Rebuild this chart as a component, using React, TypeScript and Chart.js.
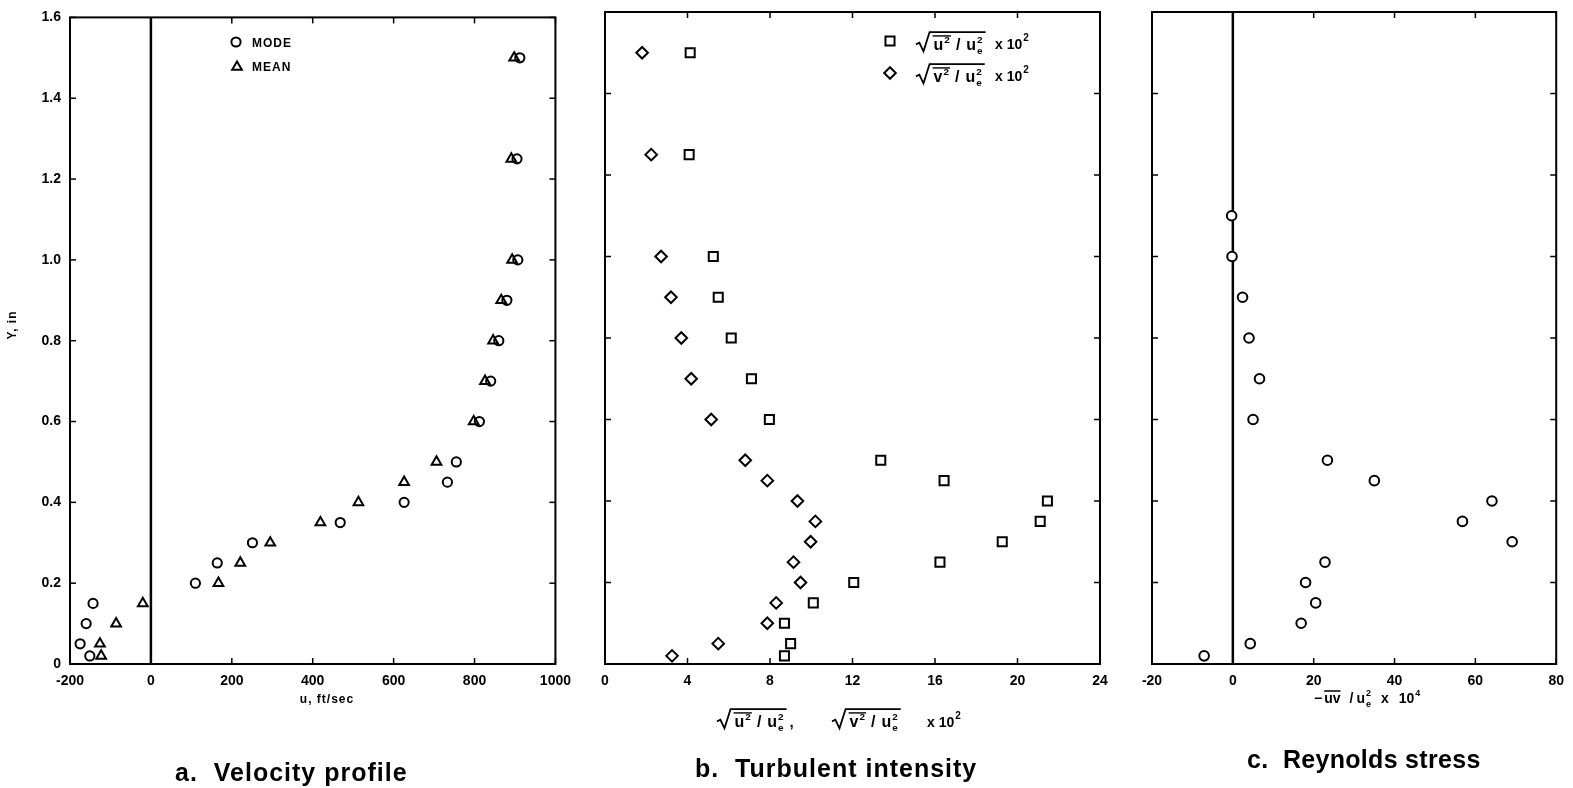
import React, { useEffect, useRef } from "react";
import { Chart, registerables } from "chart.js";

Chart.register(...registerables);

// ---------------- data ----------------
const yLevels = [1.5, 1.25, 1.0, 0.9, 0.8, 0.7, 0.6, 0.5, 0.45, 0.4, 0.35, 0.3, 0.25, 0.2, 0.15, 0.1, 0.05, 0.02];
const modeVelocity = [912, 905, 907, 880, 860, 840, 812, 755, 733, 626, 468, 251, 164, 110, -143, -160, -175, -151];
const meanVelocity = [898, 891, 893, 866, 846, 826, 798, 706, 626, 513, 419, 295, 221, 167, -20, -86, -126, -123];

const uIntensity = [4.13, 4.08, 5.25, 5.49, 6.12, 7.1, 7.97, 13.37, 16.44, 21.45, 21.1, 19.26, 16.24, 12.06, 10.1, 8.7, 9.0, 8.7];
const vIntensity = [1.8, 2.24, 2.72, 3.2, 3.7, 4.18, 5.15, 6.8, 7.87, 9.33, 10.2, 9.97, 9.14, 9.48, 8.3, 7.87, 5.49, 3.25];

const stressLevels = [1.1, 1.0, 0.9, 0.8, 0.7, 0.6, 0.5, 0.45, 0.4, 0.35, 0.3, 0.25, 0.2, 0.15, 0.1, 0.05, 0.02];
const reynoldsStress = [-0.3, -0.2, 2.4, 4.0, 6.6, 5.0, 23.4, 35.0, 64.1, 56.8, 69.1, 22.8, 18.0, 20.5, 16.9, 4.3, -7.1];

const yTicks = [0, 0.2, 0.4, 0.6, 0.8, 1.0, 1.2, 1.4, 1.6];
const yTickLabels = ["0", "0.2", "0.4", "0.6", "0.8", "1.0", "1.2", "1.4", "1.6"];
const velocityTicks = [-200, 0, 200, 400, 600, 800, 1000];
const intensityTicks = [0, 4, 8, 12, 16, 20, 24];
const stressTicks = [-20, 0, 20, 40, 60, 80];

// ---------------- layout constants ----------------
const FONT = '"Liberation Sans", Arial, Helvetica, sans-serif';
const TOP = 12;
const BOTTOM = 664;
const CANVAS_H = 788;
const X_AXIS_H = 40;
const Y_AXIS_W = 40;

function line(ctx: CanvasRenderingContext2D, x1: number, y1: number, x2: number, y2: number) {
  ctx.beginPath();
  ctx.moveTo(x1, y1);
  ctx.lineTo(x2, y2);
  ctx.stroke();
}

function seg(ctx: CanvasRenderingContext2D, x: number, y: number, text: string, size: number, dy = 0) {
  ctx.font = `bold ${size}px ${FONT}`;
  ctx.fillText(text, x, y + dy);
  return x + ctx.measureText(text).width;
}

function marker(ctx: CanvasRenderingContext2D, style: string, x: number, y: number, r: number) {
  ctx.beginPath();
  if (style === "circle") ctx.arc(x, y, r, 0, Math.PI * 2);
  else if (style === "triangle") {
    ctx.moveTo(x, y - r);
    ctx.lineTo(x + r * 0.866, y + r / 2);
    ctx.lineTo(x - r * 0.866, y + r / 2);
    ctx.closePath();
  } else if (style === "rect") {
    const h = r * Math.SQRT1_2;
    ctx.rect(x - h, y - h, 2 * h, 2 * h);
  } else {
    ctx.moveTo(x, y - r);
    ctx.lineTo(x + r, y);
    ctx.lineTo(x, y + r);
    ctx.lineTo(x - r, y);
    ctx.closePath();
  }
  ctx.fillStyle = "#fff";
  ctx.fill();
  ctx.lineWidth = 2;
  ctx.strokeStyle = "#000";
  ctx.stroke();
}

// square-root of a ratio:  sqrt( X^2 / u_e^2 ) with mean bar over X^2
function drawSqrtRatio(ctx: CanvasRenderingContext2D, x: number, y: number, letter: string, s: number) {
  ctx.fillStyle = "#000";
  ctx.strokeStyle = "#000";
  const radW = s * 0.85;
  let cx = x + radW + 4;
  const barStart = cx - 1;
  cx = seg(ctx, cx, y, letter, s);
  cx = seg(ctx, cx + 1, y, "2", s * 0.62, -s * 0.45);
  const barEnd = cx + 1;
  cx = seg(ctx, cx + 6, y, "/", s);
  cx = seg(ctx, cx + 6, y, "u", s);
  const sx = cx + 1;
  seg(ctx, sx, y, "e", s * 0.62, s * 0.28);
  cx = seg(ctx, sx, y, "2", s * 0.62, -s * 0.45);
  cx += 3;
  ctx.lineWidth = 1.4;
  line(ctx, barStart, y - s * 0.88, barEnd, y - s * 0.88);
  const topY = y - s * 1.12;
  ctx.lineWidth = 1.8;
  ctx.beginPath();
  ctx.moveTo(x, y - s * 0.35);
  ctx.lineTo(x + radW * 0.25, y - s * 0.45);
  ctx.lineTo(x + radW * 0.55, y + s * 0.08);
  ctx.lineTo(x + radW, topY);
  ctx.lineTo(cx, topY);
  ctx.stroke();
  return cx;
}

function drawFrame(chart: any, xTicks: number[], zero: boolean) {
  const { ctx, chartArea: a, scales } = chart;
  const xs = scales.x;
  const ys = scales.y;
  ctx.save();
  ctx.strokeStyle = "#000";
  ctx.lineWidth = 2;
  ctx.strokeRect(a.left, a.top, a.right - a.left, a.bottom - a.top);
  ctx.lineWidth = 1.5;
  const T = 6;
  for (const v of yTicks) {
    const p = ys.getPixelForValue(v);
    line(ctx, a.left, p, a.left + T, p);
    line(ctx, a.right, p, a.right - T, p);
  }
  for (const v of xTicks) {
    const p = xs.getPixelForValue(v);
    line(ctx, p, a.top, p, a.top + T);
    line(ctx, p, a.bottom, p, a.bottom - T);
  }
  if (zero) {
    ctx.lineWidth = 2.5;
    const p = xs.getPixelForValue(0);
    line(ctx, p, a.top, p, a.bottom);
  }
  ctx.restore();
}

type PanelSpec = {
  width: number;
  plotLeft: number;
  plotRight: number;
  xMin: number;
  xMax: number;
  xTicks: number[];
  showY: boolean;
  zero: boolean;
  datasets: any[];
  decorate: (chart: any) => void;
};

function makeConfig(p: PanelSpec): any {
  return {
    type: "scatter",
    data: { datasets: p.datasets },
    options: {
      responsive: false,
      animation: false,
      events: [],
      layout: {
        autoPadding: false,
        padding: {
          left: p.showY ? p.plotLeft - Y_AXIS_W : p.plotLeft,
          right: p.width - p.plotRight,
          top: TOP,
          bottom: CANVAS_H - BOTTOM - X_AXIS_H,
        },
      },
      plugins: { legend: { display: false }, tooltip: { enabled: false }, title: { display: false } },
      scales: {
        x: {
          type: "linear",
          min: p.xMin,
          max: p.xMax,
          afterBuildTicks: (s: any) => {
            s.ticks = p.xTicks.map((v) => ({ value: v }));
          },
          afterFit: (s: any) => {
            s.height = X_AXIS_H;
          },
          grid: { display: false, drawTicks: false },
          border: { display: false },
          ticks: {
            color: "#000",
            font: { family: FONT, size: 14, weight: "bold" },
            padding: 9,
            maxRotation: 0,
            autoSkip: false,
            callback: (v: any) => String(v),
          },
        },
        y: {
          type: "linear",
          min: 0,
          max: 1.6,
          afterBuildTicks: (s: any) => {
            s.ticks = yTicks.map((v) => ({ value: v }));
          },
          afterFit: (s: any) => {
            s.width = p.showY ? Y_AXIS_W : 0;
          },
          grid: { display: false, drawTicks: false },
          border: { display: false },
          ticks: {
            display: p.showY,
            color: "#000",
            font: { family: FONT, size: 14, weight: "bold" },
            padding: 9,
            autoSkip: false,
            callback: (v: any) => {
              const i = yTicks.findIndex((t) => Math.abs(t - v) < 1e-6);
              return i >= 0 ? yTickLabels[i] : "";
            },
          },
        },
      },
    },
    plugins: [
      {
        id: "frame",
        beforeDatasetsDraw: (chart: any) => drawFrame(chart, p.xTicks, p.zero),
      },
      {
        id: "deco",
        afterDraw: (chart: any) => {
          const ctx = chart.ctx;
          ctx.save();
          ctx.fillStyle = "#000";
          ctx.strokeStyle = "#000";
          ctx.textBaseline = "alphabetic";
          ctx.textAlign = "left";
          p.decorate(chart);
          ctx.restore();
        },
      },
    ],
  };
}

const pointBase = {
  showLine: false,
  pointBorderColor: "#000",
  pointBorderWidth: 2,
};

function panelA(): PanelSpec {
  return {
    width: 580,
    plotLeft: 70,
    plotRight: 556,
    xMin: -200,
    xMax: 1000,
    xTicks: velocityTicks,
    showY: true,
    zero: true,
    datasets: [
      {
        ...pointBase,
        label: "MODE",
        data: yLevels.map((y, i) => ({ x: modeVelocity[i], y })),
        pointStyle: "circle",
        pointRadius: 4.6,
        pointBackgroundColor: "rgba(0,0,0,0)",
      },
      {
        ...pointBase,
        label: "MEAN",
        data: yLevels.map((y, i) => ({ x: meanVelocity[i], y })),
        pointStyle: "triangle",
        pointRadius: 5.6,
        pointBackgroundColor: "rgba(0,0,0,0)",
      },
    ],
    decorate: (chart: any) => {
      const ctx = chart.ctx as CanvasRenderingContext2D;
      marker(ctx, "circle", 236, 42, 4.6);
      marker(ctx, "triangle", 237, 67, 5.6);
      ctx.fillStyle = "#000";
      (ctx as any).letterSpacing = "1px";
      seg(ctx, 252, 47, "MODE", 12);
      seg(ctx, 252, 71, "MEAN", 12);
      // x-axis title
      ctx.font = `bold 12px ${FONT}`;
      ctx.textAlign = "center";
      ctx.fillText("u, ft/sec", 327, 703);
      // y-axis title
      ctx.save();
      ctx.translate(16, 325);
      ctx.rotate(-Math.PI / 2);
      ctx.fillText("Y, in", 0, 0);
      ctx.restore();
      (ctx as any).letterSpacing = "0px";
      ctx.textAlign = "left";
    },
  };
}

function panelB(): PanelSpec {
  return {
    width: 550,
    plotLeft: 25,
    plotRight: 520,
    xMin: 0,
    xMax: 24,
    xTicks: intensityTicks,
    showY: false,
    zero: false,
    datasets: [
      {
        ...pointBase,
        label: "u' intensity",
        data: yLevels.map((y, i) => ({ x: uIntensity[i], y })),
        pointStyle: "rect",
        pointRadius: 6.4,
        pointBackgroundColor: "#fff",
      },
      {
        ...pointBase,
        label: "v' intensity",
        data: yLevels.map((y, i) => ({ x: vIntensity[i], y })),
        pointStyle: "rectRot",
        pointRadius: 5.8,
        pointBackgroundColor: "#fff",
      },
    ],
    decorate: (chart: any) => {
      const ctx = chart.ctx as CanvasRenderingContext2D;
      // legend
      marker(ctx, "rect", 310, 41, 6.4);
      marker(ctx, "rectRot", 310, 73, 5.8);
      ctx.fillStyle = "#000";
      drawSqrtRatio(ctx, 336, 50, "u", 16);
      let e = seg(ctx, 415, 49, "x 10", 14);
      seg(ctx, e + 1, 49, "2", 10, -8);
      drawSqrtRatio(ctx, 336, 82, "v", 16);
      e = seg(ctx, 415, 81, "x 10", 14);
      seg(ctx, e + 1, 81, "2", 10, -8);
      // x-axis title
      const end1 = drawSqrtRatio(ctx, 137, 727, "u", 16);
      seg(ctx, end1 + 3, 727, ",", 15);
      drawSqrtRatio(ctx, 252, 727, "v", 16);
      e = seg(ctx, 347, 727, "x 10", 14);
      seg(ctx, e + 1, 727, "2", 10, -8);
    },
  };
}

function panelC(): PanelSpec {
  return {
    width: 443,
    plotLeft: 22,
    plotRight: 432,
    xMin: -20,
    xMax: 80,
    xTicks: stressTicks,
    showY: false,
    zero: true,
    datasets: [
      {
        ...pointBase,
        label: "Reynolds stress",
        data: stressLevels.map((y, i) => ({ x: reynoldsStress[i], y })),
        pointStyle: "circle",
        pointRadius: 4.8,
        pointBackgroundColor: "#fff",
      },
    ],
    decorate: (chart: any) => {
      const ctx = chart.ctx as CanvasRenderingContext2D;
      ctx.fillStyle = "#000";
      const y = 703;
      let x = seg(ctx, 184, y, "\u2212", 14);
      const b0 = x + 2;
      x = seg(ctx, x + 2, y, "uv", 14);
      ctx.lineWidth = 1.5;
      line(ctx, b0, y - 12, x, y - 12);
      x = seg(ctx, x + 9, y, "/", 14);
      x = seg(ctx, x + 3, y, "u", 14);
      seg(ctx, x + 1, y, "e", 9, 4);
      x = seg(ctx, x + 1, y, "2", 9, -7);
      x = seg(ctx, x + 10, y, "x", 14);
      x = seg(ctx, x + 10, y, "10", 14);
      seg(ctx, x + 1, y, "4", 9, -7);
    },
  };
}

const subtitleStyle = (left: number, top: number, spacing: number): React.CSSProperties => ({
  position: "absolute",
  left,
  top,
  font: `bold 25px ${FONT}`,
  letterSpacing: `${spacing}px`,
  lineHeight: "28px",
  whiteSpace: "pre",
  color: "#000",
});

export default function App() {
  const ra = useRef<HTMLCanvasElement>(null);
  const rb = useRef<HTMLCanvasElement>(null);
  const rc = useRef<HTMLCanvasElement>(null);

  useEffect(() => {
    const charts = [
      new Chart(ra.current as HTMLCanvasElement, makeConfig(panelA())),
      new Chart(rb.current as HTMLCanvasElement, makeConfig(panelB())),
      new Chart(rc.current as HTMLCanvasElement, makeConfig(panelC())),
    ];
    return () => charts.forEach((c) => c.destroy());
  }, []);

  return (
    <div
      style={{
        position: "absolute",
        left: 0,
        top: 0,
        width: 1573,
        height: 788,
        background: "#fff",
        overflow: "hidden",
      }}
    >
      <canvas ref={ra} width={580} height={CANVAS_H} style={{ position: "absolute", left: 0, top: 0 }} />
      <canvas ref={rb} width={550} height={CANVAS_H} style={{ position: "absolute", left: 580, top: 0 }} />
      <canvas ref={rc} width={443} height={CANVAS_H} style={{ position: "absolute", left: 1130, top: 0 }} />
      <div style={subtitleStyle(175, 758, 1)}>{"a.  Velocity profile"}</div>
      <div style={subtitleStyle(695, 754, 1)}>{"b.  Turbulent intensity"}</div>
      <div style={subtitleStyle(1247, 745, 0.3)}>{"c.  Reynolds stress"}</div>
    </div>
  );
}
